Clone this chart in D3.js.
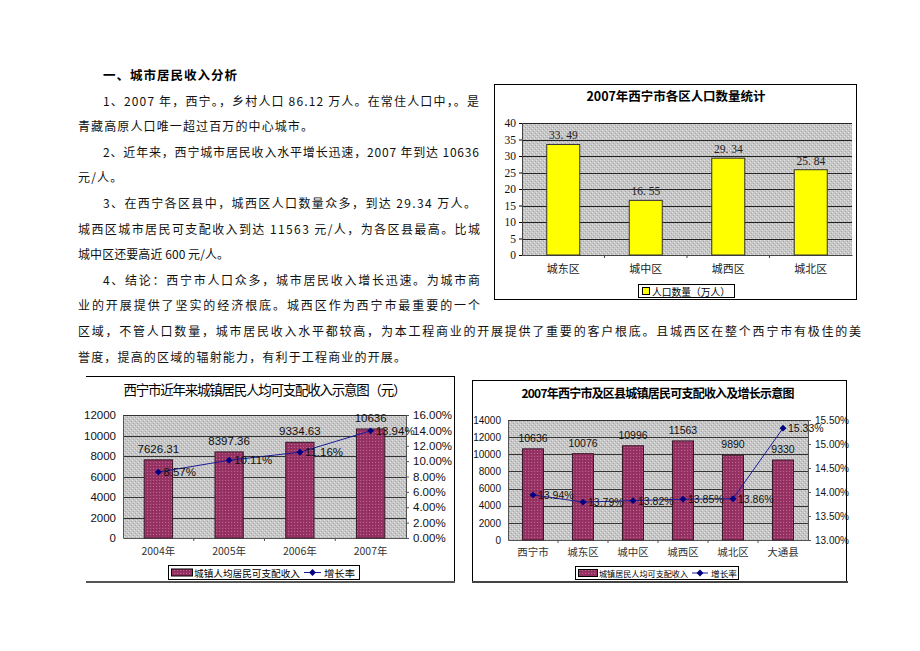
<!DOCTYPE html>
<html><head><meta charset="utf-8">
<script src="https://cdn.jsdelivr.net/npm/d3@7"></script>
<style>body{margin:0;background:#fff}svg{display:block}</style>
</head><body>
<script>
// ---------- DATA ----------
const headingText = "一、城市居民收入分析";
const bodyLines = [
  "1、2007 年，西宁。，乡村人口 86.12 万人。在常住人口中，。是",
  "青藏高原人口唯一超过百万的中心城市。",
  "2、近年来，西宁城市居民收入水平增长迅速，2007 年到达 10636",
  "元/人。",
  "3、在西宁各区县中，城西区人口数量众多，到达 29.34 万人。",
  "城西区城市居民可支配收入到达 11563 元/人，为各区县最高。比城",
  "城中区还要高近 600 元/人。",
  "4、结论：西宁市人口众多，城市居民收入增长迅速。为城市商",
  "业的开展提供了坚实的经济根底。城西区作为西宁市最重要的一个",
  "区域，不管人口数量，城市居民收入水平都较高，为本工程商业的开展提供了重要的客户根底。且城西区在整个西宁市有极佳的美",
  "誉度，提高的区域的辐射能力，有利于工程商业的开展。"
];

const popTitle = "2007年西宁市各区人口数量统计";
const popCategories = ["城东区","城中区","城西区","城北区"];
const popValues = [33.49,16.55,29.34,25.84];
const popValueLabels = ["33. 49","16. 55","29. 34","25. 84"];
const popTicks = [0,5,10,15,20,25,30,35,40];
const popLegend = "人口数量（万人）";

const yearTitle = "西宁市近年来城镇居民人均可支配收入示意图（元）";
const yearCategories = ["2004年","2005年","2006年","2007年"];
const yearIncome = [7626.31,8397.36,9334.63,10636];
const yearIncomeLabels = ["7626.31","8397.36","9334.63","10636"];
const yearGrowth = [8.57,10.11,11.16,13.94];
const yearIncomeTicks = [0,2000,4000,6000,8000,10000,12000];
const yearGrowthTicks = [0,2,4,6,8,10,12,14,16];
const yearLegendBar = "城镇人均居民可支配收入";
const yearLegendLine = "增长率";

const distTitle = "2007年西宁市及区县城镇居民可支配收入及增长示意图";
const distCategories = ["西宁市","城东区","城中区","城西区","城北区","大通县"];
const distIncome = [10636,10076,10996,11563,9890,9330];
const distGrowth = [13.94,13.79,13.82,13.85,13.86,15.33];
const distIncomeTicks = [0,2000,4000,6000,8000,10000,12000,14000];
const distGrowthTicks = [13.0,13.5,14.0,14.5,15.0,15.5];
const distLegendBar = "城镇居民人均可支配收入";
const distLegendLine = "增长率";

// ---------- SETUP ----------
const CJK = "'Noto Sans CJK SC','Noto Sans',sans-serif";
const SANS = "'Liberation Sans',Arial,sans-serif";
const SERIF = "'Liberation Serif','DejaVu Serif',serif";

const svg = d3.select("body").append("svg").attr("width",920).attr("height",651);
svg.append("rect").attr("width",920).attr("height",651).attr("fill","#fff");
const defs = svg.append("defs");

const gp = defs.append("pattern").attr("id","grayPat").attr("width",4).attr("height",4).attr("patternUnits","userSpaceOnUse");
gp.append("rect").attr("width",4).attr("height",4).attr("fill","#c6c6c6");
gp.append("rect").attr("x",0).attr("y",0).attr("width",1).attr("height",1).attr("fill","#e4e4e4");
gp.append("rect").attr("x",2).attr("y",2).attr("width",1).attr("height",1).attr("fill","#e4e4e4");
gp.append("rect").attr("x",1).attr("y",3).attr("width",1).attr("height",1).attr("fill","#a8a8a8");
gp.append("rect").attr("x",3).attr("y",1).attr("width",1).attr("height",1).attr("fill","#a8a8a8");

const mp = defs.append("pattern").attr("id","maroonPat").attr("width",3).attr("height",3).attr("patternUnits","userSpaceOnUse");
mp.append("rect").attr("width",3).attr("height",3).attr("fill","#993366");
mp.append("rect").attr("x",0).attr("y",0).attr("width",1).attr("height",1).attr("fill","#b8688f");
mp.append("rect").attr("x",2).attr("y",1).attr("width",1).attr("height",1).attr("fill","#862a57");

// ---------- BODY TEXT ----------
svg.append("text").attr("x",103).attr("y",79.5).attr("font-family",CJK).attr("font-size",12.5)
  .attr("font-weight","bold").attr("textLength",134).attr("lengthAdjust","spacing").text(headingText);

const lineX = [103,78,103,78,103,78,78,103,78,78,78];
const lineW = [376,235,376,null,373,402,151,377,402,783,328];
bodyLines.forEach((t,i)=>{
  const tx = svg.append("text").attr("x",lineX[i]).attr("y",105.5+i*25.6)
    .attr("font-family",CJK).attr("font-size",12).attr("fill","#111").text(t);
  if(lineW[i]) tx.attr("textLength",lineW[i]).attr("lengthAdjust","spacing");
  else tx.attr("letter-spacing",1.2);
});

// ---------- CHART 1: population ----------
(function(){
  const g = svg.append("g");
  g.append("rect").attr("x",494.5).attr("y",84.5).attr("width",362).attr("height",215)
    .attr("fill","#fff").attr("stroke","#000").attr("stroke-width",1);
  g.append("text").attr("x",676).attr("y",100.5).attr("text-anchor","middle").attr("font-family",CJK)
    .attr("font-size",12.5).attr("font-weight","bold").attr("textLength",179).attr("lengthAdjust","spacing").text(popTitle);
  const L=522,R=852,T=123,B=255;
  const y = d3.scaleLinear().domain([0,40]).range([B,T]);
  const x = d3.scaleBand().domain(popCategories).range([L,R]).paddingInner(0.6).paddingOuter(0.3);
  g.append("rect").attr("x",L).attr("y",T).attr("width",R-L).attr("height",B-T).attr("fill","url(#grayPat)");
  g.selectAll(".gl").data(popTicks.slice(1)).join("line").attr("x1",L).attr("x2",R)
    .attr("y1",d=>Math.round(y(d))+0.5).attr("y2",d=>Math.round(y(d))+0.5).attr("stroke","#222").attr("stroke-width",1);
  const ya = d3.axisLeft(y).tickValues(popTicks).tickSize(3).tickFormat(d3.format("d"));
  const ag = g.append("g").attr("transform",`translate(${L},0)`).call(ya);
  ag.select(".domain").attr("stroke","#444");
  ag.selectAll("text").attr("font-family",SERIF).attr("font-size",11.5).attr("fill","#111");
  const xa = d3.axisBottom(x).tickSize(0).tickFormat("");
  const xg = g.append("g").attr("transform",`translate(0,${B})`).call(xa);
  xg.select(".domain").attr("stroke","#444");
  popCategories.forEach((c,i)=>{ if(i>0){ const bx = x(c)-x.step()*0.3; g.append("line").attr("x1",bx).attr("x2",bx).attr("y1",B).attr("y2",B+3).attr("stroke","#444"); }});
  g.selectAll(".bar").data(popValues).join("rect")
    .attr("x",(d,i)=>x(popCategories[i])).attr("width",x.bandwidth())
    .attr("y",d=>y(d)).attr("height",d=>B-y(d)).attr("fill","#ffff00").attr("stroke","#333").attr("stroke-width",1);
  g.selectAll(".vl").data(popValues).join("text")
    .attr("x",(d,i)=>x(popCategories[i])+x.bandwidth()/2).attr("y",d=>y(d)-5)
    .attr("text-anchor","middle").attr("font-family",SERIF).attr("font-size",11.5).attr("fill","#222")
    .text((d,i)=>popValueLabels[i]);
  g.selectAll(".cl").data(popCategories).join("text")
    .attr("x",d=>x(d)+x.bandwidth()/2).attr("y",273).attr("text-anchor","middle")
    .attr("font-family",CJK).attr("font-size",11).attr("fill","#222").text(d=>d);
  g.append("rect").attr("x",638.5).attr("y",284.5).attr("width",96).attr("height",13).attr("fill","#fff").attr("stroke","#000");
  g.append("rect").attr("x",642.5).attr("y",287.5).attr("width",7).attr("height",7).attr("fill","#ffff00").attr("stroke","#000");
  g.append("text").attr("x",652).attr("y",295.5).attr("font-family",CJK).attr("font-size",10)
    .attr("textLength",78).attr("lengthAdjust","spacingAndGlyphs").text(popLegend);
})();

// ---------- combo chart helper ----------
function combo(o){
  const g = svg.append("g");
  o.frame(g);
  g.append("text").attr("x",o.titleX).attr("y",o.titleY).attr("text-anchor","middle").attr("font-family",CJK)
    .attr("font-size",o.titleSize).attr("font-weight",o.titleBold?"bold":"normal")
    .attr("textLength",o.titleW).attr("lengthAdjust","spacing").text(o.title);
  const {L,R,T,B} = o;
  const yl = d3.scaleLinear().domain(d3.extent(o.lTicks)).range([B,T]);
  const yr = d3.scaleLinear().domain(d3.extent(o.rTicks)).range([B,T]);
  const x = d3.scaleBand().domain(o.cats).range([L,R]).paddingInner(o.pad).paddingOuter(o.pad/2);
  g.append("rect").attr("x",L).attr("y",T).attr("width",R-L).attr("height",B-T).attr("fill","url(#grayPat)");
  g.selectAll(".gl").data(o.lTicks.slice(1)).join("line").attr("x1",L).attr("x2",R)
    .attr("y1",d=>Math.round(yl(d))+0.5).attr("y2",d=>Math.round(yl(d))+0.5).attr("stroke","#333");
  const la = g.append("g").attr("transform",`translate(${L},0)`)
    .call(d3.axisLeft(yl).tickValues(o.lTicks).tickSize(0).tickPadding(7).tickFormat(d3.format("d")));
  la.select(".domain").attr("stroke","#555");
  la.selectAll("text").attr("font-family",SANS).attr("font-size",o.fs).attr("fill","#111");
  const ra = g.append("g").attr("transform",`translate(${R},0)`)
    .call(d3.axisRight(yr).tickValues(o.rTicks).tickSize(3).tickPadding(4).tickFormat(d=>d.toFixed(2)+"%"));
  ra.select(".domain").attr("stroke","#555");
  ra.selectAll("line").attr("stroke","#555");
  ra.selectAll("text").attr("font-family",SANS).attr("font-size",o.fs).attr("fill","#111");
  const xg = g.append("g").attr("transform",`translate(0,${B})`).call(d3.axisBottom(x).tickSize(0).tickFormat(""));
  xg.select(".domain").attr("stroke","#555");
  o.cats.forEach((c,i)=>{ if(i>0){ const bx = x(c)-x.step()*o.pad/2; g.append("line").attr("x1",bx).attr("x2",bx).attr("y1",B).attr("y2",B+3).attr("stroke","#555"); }});
  g.selectAll(".bar").data(o.bars).join("rect")
    .attr("x",(d,i)=>x(o.cats[i])).attr("width",x.bandwidth())
    .attr("y",d=>yl(d)).attr("height",d=>B-yl(d)).attr("fill","url(#maroonPat)").attr("stroke","#3a1a2a").attr("stroke-width",1);
  g.selectAll(".vl").data(o.bars).join("text")
    .attr("x",(d,i)=>x(o.cats[i])+x.bandwidth()/2).attr("y",d=>yl(d)-7)
    .attr("text-anchor","middle").attr("font-family",SANS).attr("font-size",o.vfs).attr("fill","#111")
    .text((d,i)=>o.barLabels[i]);
  const pts = o.line.map((v,i)=>[x(o.cats[i])+x.bandwidth()/2, yr(v)]);
  g.append("path").attr("d",d3.line()(pts)).attr("fill","none").attr("stroke","#1a1a9a").attr("stroke-width",1);
  g.selectAll(".mk").data(pts).join("path").attr("d",d3.symbol(d3.symbolDiamond2,30)())
    .attr("transform",d=>`translate(${d[0]},${d[1]})`).attr("fill","#000080");
  g.selectAll(".ll").data(o.line).join("text")
    .attr("x",(d,i)=>pts[i][0]+5).attr("y",(d,i)=>pts[i][1]+4)
    .attr("font-family",SANS).attr("font-size",o.vfs).attr("fill","#111").text(d=>d.toFixed(2)+"%");
  g.selectAll(".cl").data(o.cats).join("text")
    .attr("x",d=>x(d)+x.bandwidth()/2).attr("y",o.catY).attr("text-anchor","middle")
    .attr("font-family",CJK).attr("font-size",10.5).attr("fill","#333").text(d=>d);
  const lg = o.legend;
  g.append("rect").attr("x",lg.x+0.5).attr("y",lg.y+0.5).attr("width",lg.w).attr("height",lg.h).attr("fill","#fff").attr("stroke","#000");
  const cy = lg.y + lg.h/2 + 0.5;
  g.append("rect").attr("x",lg.x+3.5).attr("y",cy-3.5).attr("width",lg.sw).attr("height",7).attr("fill","url(#maroonPat)").attr("stroke","#000");
  g.append("text").attr("x",lg.tx).attr("y",cy+4).attr("font-family",CJK).attr("font-size",lg.fs)
    .attr("textLength",lg.tw).attr("lengthAdjust","spacingAndGlyphs").text(o.legBar);
  g.append("line").attr("x1",lg.lx).attr("x2",lg.lx+lg.ll).attr("y1",cy).attr("y2",cy).attr("stroke","#1a1a9a");
  g.append("path").attr("d",d3.symbol(d3.symbolDiamond2,30)()).attr("transform",`translate(${lg.lx+lg.ll/2},${cy})`).attr("fill","#000080");
  g.append("text").attr("x",lg.lx+lg.ll+3).attr("y",cy+4).attr("font-family",CJK).attr("font-size",lg.fs)
    .attr("textLength",lg.lw).attr("lengthAdjust","spacingAndGlyphs").text(o.legLine);
}

// ---------- CHART 2 ----------
combo({
  frame: g=>{
    g.append("line").attr("x1",86).attr("x2",454).attr("y1",376.5).attr("y2",376.5).attr("stroke","#000");
    g.append("line").attr("x1",454.5).attr("x2",454.5).attr("y1",376).attr("y2",582).attr("stroke","#000");
    g.append("line").attr("x1",86).attr("x2",455).attr("y1",582).attr("y2",582).attr("stroke","#555").attr("stroke-width",2);
  },
  title: yearTitle, titleX: 265, titleY: 395, titleSize: 13.5, titleBold:false, titleW: 283,
  L:123, R:406, T:415, B:538, cats: yearCategories, pad:0.6,
  lTicks: yearIncomeTicks, rTicks: yearGrowthTicks, bars: yearIncome, barLabels: yearIncomeLabels, line: yearGrowth,
  fs: 11.5, vfs: 11.5, catY: 555,
  legend:{x:168,y:565,w:191,h:14,sw:21,tx:194,tw:106,lx:304,ll:17,lw:31,fs:9.5},
  legBar: yearLegendBar, legLine: yearLegendLine
});

// ---------- CHART 3 ----------
combo({
  frame: g=>{
    g.append("rect").attr("x",472.5).attr("y",380.5).attr("width",374).attr("height",201).attr("fill","none").attr("stroke","#000");
    g.append("line").attr("x1",472).attr("x2",848).attr("y1",582).attr("y2",582).attr("stroke","#444").attr("stroke-width",2);
  },
  title: distTitle, titleX: 658, titleY: 398, titleSize: 12, titleBold:true, titleW: 273,
  L:508, R:808, T:420, B:540, cats: distCategories, pad:0.58,
  lTicks: distIncomeTicks, rTicks: distGrowthTicks, bars: distIncome, barLabels: distIncome.map(String), line: distGrowth,
  fs: 10, vfs: 10.5, catY: 556,
  legend:{x:575,y:566,w:163,h:13,sw:19,tx:599,tw:89,lx:692,ll:16,lw:26,fs:8.5},
  legBar: distLegendBar, legLine: distLegendLine
});
</script>
</body></html>
